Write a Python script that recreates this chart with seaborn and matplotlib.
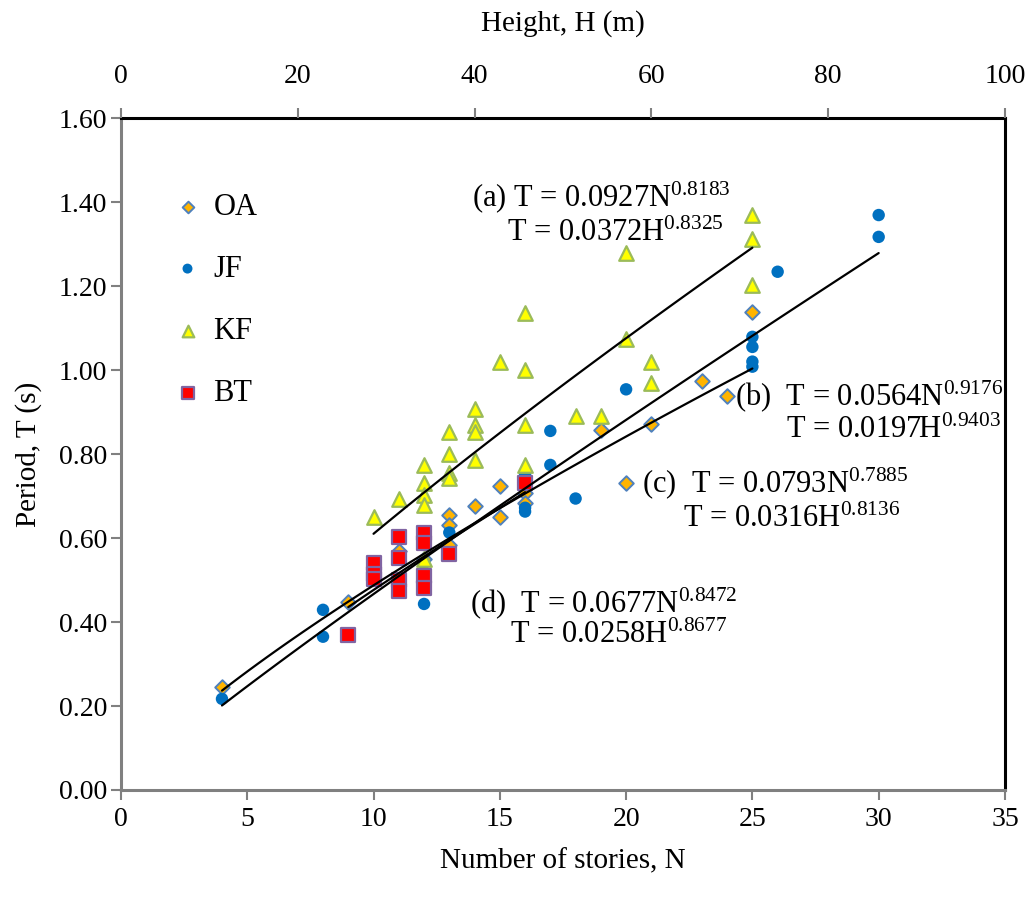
import numpy as np
import pandas as pd
import matplotlib
matplotlib.use("Agg")
import matplotlib.pyplot as plt
import seaborn as sns

# ---------------- data ----------------
OA_N = [4, 9, 11, 12, 13, 13, 13, 14, 15, 15, 16, 16, 19, 20, 21, 23, 24, 25]
OA_T = [0.245, 0.448, 0.570, 0.550, 0.655, 0.631, 0.583, 0.676, 0.724, 0.651,
        0.707, 0.683, 0.857, 0.732, 0.871, 0.974, 0.938, 1.138]

JF_N = [4, 8, 8, 12, 12, 13, 16, 16, 16, 17, 17, 18, 20, 25, 25, 25, 25, 26, 30, 30]
JF_T = [0.217, 0.429, 0.365, 0.443, 0.540, 0.613, 0.663, 0.672, 0.752, 0.855,
        0.774, 0.694, 0.954, 1.079, 1.055, 1.020, 1.008, 1.234, 1.369, 1.317]

KF_N = [10, 11, 12, 12, 12, 12, 12, 13, 13, 13, 13, 14, 14, 14, 14, 15,
        16, 16, 16, 16, 18, 19, 20, 20, 21, 21, 25, 25, 25]
KF_T = [0.651, 0.694, 0.774, 0.730, 0.702, 0.679, 0.550, 0.853, 0.800, 0.754,
        0.744, 0.906, 0.869, 0.853, 0.786, 1.020, 1.135, 1.000, 0.869, 0.774,
        0.890, 0.890, 1.279, 1.073, 1.020, 0.970, 1.369, 1.311, 1.202]

BT_N = [9, 10, 10, 10, 11, 11, 11, 11, 12, 12, 12, 12, 13, 16]
BT_T = [0.369, 0.540, 0.515, 0.502, 0.602, 0.553, 0.500, 0.475, 0.611, 0.587,
        0.510, 0.482, 0.563, 0.731]

# power-law trend lines shown in the chart: T = a * N^b over [N_start, N_end]
FIT_LABELS = ["a", "b", "c", "d"]
FIT_A = [0.0927, 0.0564, 0.0793, 0.0677]
FIT_B = [0.8183, 0.9176, 0.7885, 0.8472]
FIT_N0 = [10, 4, 4, 9]
FIT_N1 = [25, 30, 25, 16]

EQ_N_TEXT = ["(a) T = 0.0927N$^{0.8183}$", "(b)  T = 0.0564N$^{0.9176}$",
             "(c)  T = 0.0793N$^{0.7885}$", "(d)  T = 0.0677N$^{0.8472}$"]
EQ_H_TEXT = ["T = 0.0372H$^{0.8325}$", "T = 0.0197H$^{0.9403}$",
             "T = 0.0316H$^{0.8136}$", "T = 0.0258H$^{0.8677}$"]

X_TICKS = [0, 5, 10, 15, 20, 25, 30, 35]
Y_TICKS = [0.0, 0.2, 0.4, 0.6, 0.8, 1.0, 1.2, 1.4, 1.6]
H_TICKS = [0, 20, 40, 60, 80, 100]

# ---------------- style ----------------
sns.set_theme(style="white")
plt.rcParams["font.family"] = ["Liberation Serif", "DejaVu Serif"]
plt.rcParams["mathtext.fontset"] = "custom"
plt.rcParams["mathtext.rm"] = "Liberation Serif"
plt.rcParams["mathtext.it"] = "Liberation Serif:italic"
plt.rcParams["mathtext.bf"] = "Liberation Serif:bold"
plt.rcParams["text.color"] = "black"
plt.rcParams["axes.labelcolor"] = "black"
plt.rcParams["xtick.labelcolor"] = "black"
plt.rcParams["ytick.labelcolor"] = "black"

fig = plt.figure(figsize=(10.32, 9.01), dpi=100)
ax = fig.add_axes([0.1172, 0.1232, 0.8566, 0.7458])

# scatter series
sns.scatterplot(x=OA_N, y=OA_T, ax=ax, marker="D", s=55, color="#FFB400",
                edgecolor="#4F81BD", linewidth=1.4, label="OA", zorder=3)
sns.scatterplot(x=JF_N, y=JF_T, ax=ax, marker="o", s=80, color="#0070C0",
                edgecolor="none", linewidth=0, label="JF", zorder=3)
sns.scatterplot(x=KF_N, y=KF_T, ax=ax, marker="^", s=110, color="#FFFF00",
                edgecolor="#9BBB59", linewidth=1.6, label="KF", zorder=3)
sns.scatterplot(x=BT_N, y=BT_T, ax=ax, marker="s", s=100, color="#FF0000",
                edgecolor="#8064A2", linewidth=1.6, label="BT", zorder=3)

# trend lines
for a, b, n0, n1 in zip(FIT_A, FIT_B, FIT_N0, FIT_N1):
    n = np.linspace(n0, n1, 60)
    sns.lineplot(x=n, y=a * n ** b, ax=ax, color="black", linewidth=1.6,
                 legend=False, zorder=4)

# equation labels (positions in data coords)
eq_pos_1 = [(13.9, 1.389), (24.31, 0.917), (20.63, 0.710), (13.82, 0.424)]
eq_pos_2 = [(15.28, 1.308), (26.33, 0.838), (22.25, 0.626), (15.40, 0.350)]
for t1, t2, p1, p2 in zip(EQ_N_TEXT, EQ_H_TEXT, eq_pos_1, eq_pos_2):
    ax.text(p1[0], p1[1], t1, fontsize=22, ha="left", va="baseline",
            color="black", zorder=5)
    ax.text(p2[0], p2[1], t2, fontsize=22, ha="left", va="baseline",
            color="black", zorder=5)

# axes
ax.set_xlim(0, 35)
ax.set_ylim(0, 1.6)
ax.set_xticks(X_TICKS)
ax.set_xticklabels([str(v) for v in X_TICKS])
ax.set_yticks(Y_TICKS)
ax.set_yticklabels([f"{v:.2f}" for v in Y_TICKS])
ax.tick_params(axis="both", which="major", labelsize=20, length=7, width=1.5,
               color="#808080", labelcolor="black", direction="out",
               left=True, bottom=True)
ax.tick_params(axis="y", pad=3)
ax.tick_params(axis="x", pad=5)
ax.set_xlabel("Number of stories, N", fontsize=21, labelpad=12, color="black")
ax.set_ylabel("Period, T (s)", fontsize=21, labelpad=12, color="black")

for side in ["left", "bottom"]:
    ax.spines[side].set_color("#808080")
    ax.spines[side].set_linewidth(2.2)
for side in ["top", "right"]:
    ax.spines[side].set_color("black")
    ax.spines[side].set_linewidth(2.2)

ax2 = ax.twiny()
ax2.set_xlim(0, 100)
ax2.set_xticks(H_TICKS)
ax2.set_xticklabels([str(v) for v in H_TICKS])
ax2.tick_params(axis="x", labelsize=20, length=7, width=1.5, color="#808080",
                labelcolor="black", direction="out", top=True, pad=14)
ax2.set_xlabel("Height, H (m)", fontsize=21, labelpad=24, color="black")
for s in ax2.spines.values():
    s.set_visible(False)

# legend
handles, labels = ax.get_legend_handles_labels()
keep = [(h, l) for h, l in zip(handles, labels) if l in ("OA", "JF", "KF", "BT")]
leg = ax.legend([h for h, _ in keep], [l for _, l in keep],
                loc="upper left", bbox_to_anchor=(0.058, 0.889),
                frameon=False, fontsize=22, handlelength=1.0,
                handletextpad=0.35, labelspacing=1.08, borderpad=0,
                borderaxespad=0, markerscale=0.8)
for t in leg.get_texts():
    t.set_color("black")

fig.savefig("out.png", dpi=100)
